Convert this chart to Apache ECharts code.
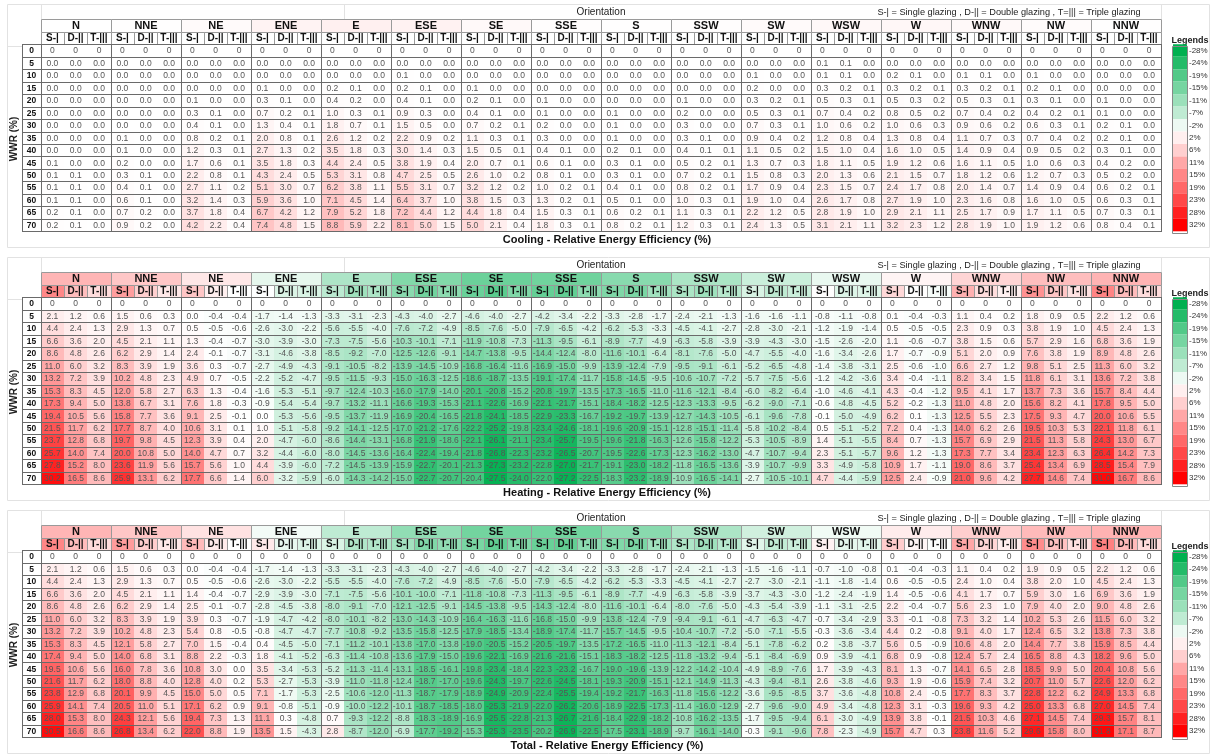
<!DOCTYPE html>
<html>
<head>
<meta charset="utf-8">
<script src="https://cdn.jsdelivr.net/npm/echarts@6/dist/echarts.min.js"></script>
<style>html,body{margin:0;padding:0;background:#fff}#chart{width:1216px;height:755px}</style>
</head>
<body>
<div id="chart"></div>
<script>
// ---------- categories ----------
const orientations = ['N','NNE','NE','ENE','E','ESE','SE','SSE','S','SSW','SW','WSW','W','WNW','NW','NNW'];
const glazings = ['S-|','D-||','T-|||'];
const wwr = [0,5,10,15,20,25,30,35,40,45,50,55,60,65,70];
const legendTicks = [-28,-24,-19,-15,-11,-7,-2,2,6,11,15,19,23,28,32];
const tableTitles = ['Cooling - Relative Energy Efficiency (%)','Heating - Relative Energy Efficiency (%)','Total - Relative Energy Efficiency (%)'];
const glazingNote = 'S-| = Single glazing , D-|| = Double glazing , T=||| = Triple glazing';

// ---------- values: per orientation [single, double, triple], rows = WWR ----------
const cooling = [
 [[0,0,0,0,0,0,0,0,0,0.1,0.1,0.1,0.1,0.2,0.2],[0,0,0,0,0,0,0,0,0,0,0.1,0.1,0.1,0.1,0.1],[0,0,0,0,0,0,0,0,0,0,0,0,0,0,0]],
 [[0,0,0,0,0,0,0,0.1,0.1,0.2,0.3,0.4,0.6,0.7,0.9],[0,0,0,0,0,0,0,0,0,0,0.1,0.1,0.1,0.2,0.2],[0,0,0,0,0,0,0,0,0,0,0,0,0,0,0]],
 [[0,0,0,0,0.1,0.3,0.4,0.8,1.2,1.7,2.2,2.7,3.2,3.7,4.2],[0,0,0,0,0,0.1,0.1,0.2,0.3,0.6,0.8,1.1,1.4,1.8,2.2],[0,0,0,0,0,0,0,0.1,0.1,0.1,0.1,0.2,0.3,0.4,0.4]],
 [[0,0,0,0.1,0.3,0.7,1.3,2.0,2.7,3.5,4.3,5.1,5.9,6.7,7.4],[0,0,0,0,0.1,0.2,0.4,0.8,1.3,1.8,2.4,3.0,3.6,4.2,4.8],[0,0,0,0,0,0.1,0.1,0.1,0.2,0.3,0.5,0.7,1.0,1.2,1.5]],
 [[0,0,0,0.2,0.4,1.0,1.8,2.6,3.5,4.4,5.3,6.2,7.1,7.9,8.8],[0,0,0,0.1,0.2,0.3,0.7,1.2,1.8,2.4,3.1,3.8,4.5,5.2,5.9],[0,0,0,0,0,0.1,0.1,0.2,0.3,0.5,0.8,1.1,1.4,1.8,2.2]],
 [[0,0,0.1,0.2,0.4,0.9,1.5,2.2,3.0,3.8,4.7,5.5,6.4,7.2,8.1],[0,0,0,0.1,0.1,0.3,0.5,0.9,1.4,1.9,2.5,3.1,3.7,4.4,5.0],[0,0,0,0,0,0,0,0.2,0.3,0.4,0.5,0.7,1.0,1.2,1.5]],
 [[0,0,0,0.1,0.2,0.4,0.7,1.1,1.5,2.0,2.6,3.2,3.8,4.4,5.0],[0,0,0,0,0.1,0.1,0.2,0.3,0.5,0.7,1.0,1.2,1.5,1.8,2.1],[0,0,0,0,0,0,0.1,0.1,0.1,0.1,0.2,0.2,0.3,0.4,0.4]],
 [[0,0,0,0,0.1,0.1,0.2,0.3,0.4,0.6,0.8,1.0,1.3,1.5,1.8],[0,0,0,0,0,0,0,0,0.1,0.1,0.1,0.2,0.2,0.3,0.3],[0,0,0,0,0,0,0,0,0,0,0,0.1,0.1,0.1,0.1]],
 [[0,0,0,0,0,0.1,0.1,0.1,0.2,0.3,0.3,0.4,0.5,0.6,0.8],[0,0,0,0,0,0,0,0,0.1,0.1,0.1,0.1,0.1,0.2,0.2],[0,0,0,0,0,0,0,0,0,0,0,0,0,0.1,0.1]],
 [[0,0,0,0,0.1,0.2,0.3,0.3,0.4,0.5,0.7,0.8,1.0,1.1,1.2],[0,0,0,0,0,0,0,0.1,0.1,0.2,0.2,0.2,0.3,0.3,0.3],[0,0,0,0,0,0,0,0,0.1,0.1,0.1,0.1,0.1,0.1,0.1]],
 [[0,0,0.1,0.2,0.3,0.5,0.7,0.9,1.1,1.3,1.5,1.7,1.9,2.2,2.4],[0,0,0,0,0.2,0.3,0.3,0.4,0.5,0.7,0.8,0.9,1.0,1.2,1.3],[0,0,0,0,0.1,0.1,0.1,0.2,0.2,0.3,0.3,0.4,0.4,0.5,0.5]],
 [[0,0.1,0.1,0.3,0.5,0.7,1.0,1.2,1.5,1.8,2.0,2.3,2.6,2.8,3.1],[0,0.1,0.1,0.2,0.3,0.4,0.6,0.8,1.0,1.1,1.3,1.5,1.7,1.9,2.1],[0,0,0,0.1,0.1,0.2,0.2,0.4,0.4,0.5,0.6,0.7,0.8,1.0,1.1]],
 [[0,0,0.2,0.3,0.5,0.8,1.0,1.3,1.6,1.9,2.1,2.4,2.7,2.9,3.2],[0,0,0.1,0.2,0.3,0.5,0.6,0.8,1.0,1.2,1.5,1.7,1.9,2.1,2.3],[0,0,0,0.1,0.2,0.2,0.3,0.4,0.5,0.6,0.7,0.8,1.0,1.1,1.2]],
 [[0,0,0.1,0.3,0.5,0.7,0.9,1.1,1.4,1.6,1.8,2.0,2.3,2.5,2.8],[0,0,0.1,0.2,0.3,0.4,0.6,0.7,0.9,1.1,1.2,1.4,1.6,1.7,1.9],[0,0,0,0.1,0.1,0.2,0.2,0.3,0.4,0.5,0.6,0.7,0.8,0.9,1.0]],
 [[0,0,0.1,0.2,0.3,0.4,0.6,0.7,0.9,1.0,1.2,1.4,1.6,1.7,1.9],[0,0,0,0.1,0.1,0.2,0.3,0.4,0.5,0.6,0.7,0.9,1.0,1.1,1.2],[0,0,0,0,0,0.1,0.1,0.2,0.2,0.3,0.3,0.4,0.5,0.5,0.6]],
 [[0,0,0,0,0.1,0.1,0.2,0.2,0.3,0.4,0.5,0.6,0.6,0.7,0.8],[0,0,0,0,0,0,0.1,0.1,0.1,0.2,0.2,0.2,0.3,0.3,0.4],[0,0,0,0,0,0,0,0,0,0,0,0.1,0.1,0.1,0.1]]
];

const heating = [
 [[0,2.1,4.4,6.6,8.6,11.0,13.2,15.3,17.3,19.4,21.5,23.7,25.7,27.8,30.2],[0,1.2,2.4,3.6,4.8,6.0,7.2,8.3,9.4,10.5,11.7,12.8,14.0,15.2,16.5],[0,0.6,1.3,2.0,2.6,3.2,3.9,4.5,5.0,5.6,6.2,6.8,7.4,8.0,8.6]],
 [[0,1.5,2.9,4.5,6.2,8.3,10.2,12.0,13.8,15.8,17.7,19.7,20.0,23.6,25.9],[0,0.6,1.3,2.1,2.9,3.9,4.8,5.8,6.7,7.7,8.7,9.8,10.8,11.9,13.1],[0,0.3,0.7,1.1,1.4,1.9,2.3,2.7,3.1,3.6,4.0,4.5,5.0,5.6,6.2]],
 [[0,0.0,0.5,1.3,2.4,3.6,4.9,6.3,7.6,9.1,10.6,12.3,14.0,15.7,17.7],[0,-0.4,-0.5,-0.4,-0.1,0.3,0.7,1.3,1.8,2.5,3.1,3.9,4.7,5.6,6.6],[0,-0.4,-0.6,-0.7,-0.7,-0.7,-0.5,-0.4,-0.3,-0.1,0.1,0.4,0.7,1.0,1.4]],
 [[0,-1.7,-2.6,-3.0,-3.1,-2.7,-2.2,-1.6,-0.9,0.0,1.0,2.0,3.2,4.4,6.0],[0,-1.4,-3.0,-3.9,-4.6,-4.9,-5.2,-5.3,-5.4,-5.3,-5.1,-4.7,-4.4,-3.9,-3.2],[0,-1.3,-2.2,-3.0,-3.8,-4.3,-4.7,-5.1,-5.4,-5.6,-5.8,-6.0,-6.0,-6.0,-5.9]],
 [[0,-3.3,-5.6,-7.3,-8.5,-9.1,-9.5,-9.7,-9.7,-9.5,-9.2,-8.6,-8.0,-7.2,-6.0],[0,-3.1,-5.5,-7.5,-9.2,-10.5,-11.5,-12.4,-13.2,-13.7,-14.1,-14.4,-14.5,-14.5,-14.3],[0,-2.3,-4.0,-5.6,-7.0,-8.2,-9.3,-10.3,-11.1,-11.9,-12.5,-13.1,-13.6,-13.9,-14.2]],
 [[0,-4.3,-7.6,-10.3,-12.5,-13.9,-15.0,-16.0,-16.6,-16.9,-17.0,-16.8,-16.4,-15.9,-15.0],[0,-4.0,-7.2,-10.1,-12.6,-14.5,-16.3,-17.9,-19.3,-20.4,-21.2,-21.9,-22.4,-22.7,-22.7],[0,-2.7,-4.9,-7.1,-9.1,-10.9,-12.5,-14.0,-15.3,-16.5,-17.6,-18.6,-19.4,-20.1,-20.7]],
 [[0,-4.6,-8.5,-11.9,-14.7,-16.8,-18.6,-20.1,-21.1,-21.8,-22.2,-22.1,-21.8,-21.3,-20.4],[0,-4.0,-7.6,-10.8,-13.8,-16.4,-18.7,-20.8,-22.6,-24.1,-25.2,-26.1,-26.8,-27.3,-27.5],[0,-2.7,-5.0,-7.3,-9.5,-11.6,-13.5,-15.2,-16.9,-18.5,-19.8,-21.1,-22.3,-23.2,-24.0]],
 [[0,-4.2,-7.9,-11.3,-14.4,-16.9,-19.1,-20.8,-22.1,-22.9,-23.4,-23.4,-23.2,-22.8,-22.0],[0,-3.4,-6.5,-9.5,-12.4,-15.0,-17.4,-19.7,-21.7,-23.3,-24.6,-25.7,-26.5,-27.0,-27.2],[0,-2.2,-4.2,-6.1,-8.0,-9.9,-11.7,-13.5,-15.1,-16.7,-18.1,-19.5,-20.7,-21.7,-22.5]],
 [[0,-3.3,-6.2,-8.9,-11.6,-13.9,-15.8,-17.3,-18.4,-19.2,-19.6,-19.6,-19.5,-19.1,-18.3],[0,-2.8,-5.3,-7.7,-10.1,-12.4,-14.5,-16.5,-18.2,-19.7,-20.9,-21.8,-22.6,-23.0,-23.2],[0,-1.7,-3.3,-4.9,-6.4,-7.9,-9.5,-11.0,-12.5,-13.9,-15.1,-16.3,-17.3,-18.2,-18.9]],
 [[0,-2.4,-4.5,-6.3,-8.1,-9.5,-10.6,-11.6,-12.3,-12.7,-12.8,-12.6,-12.3,-11.8,-10.9],[0,-2.1,-4.1,-5.8,-7.6,-9.1,-10.7,-12.1,-13.3,-14.3,-15.1,-15.8,-16.2,-16.5,-16.5],[0,-1.3,-2.7,-3.9,-5.0,-6.1,-7.2,-8.4,-9.5,-10.5,-11.4,-12.2,-13.0,-13.6,-14.1]],
 [[0,-1.6,-2.8,-3.9,-4.7,-5.2,-5.7,-6.0,-6.2,-6.1,-5.8,-5.3,-4.7,-3.9,-2.7],[0,-1.6,-3.0,-4.3,-5.5,-6.5,-7.5,-8.2,-9.0,-9.6,-10.2,-10.5,-10.7,-10.7,-10.5],[0,-1.1,-2.1,-3.0,-4.0,-4.8,-5.6,-6.4,-7.1,-7.8,-8.4,-8.9,-9.4,-9.9,-10.1]],
 [[0,-0.8,-1.2,-1.5,-1.6,-1.4,-1.2,-1.0,-0.6,-0.1,0.5,1.4,2.3,3.3,4.7],[0,-1.1,-1.9,-2.6,-3.4,-3.8,-4.2,-4.6,-4.8,-5.0,-5.1,-5.1,-5.1,-4.9,-4.4],[0,-0.8,-1.4,-2.0,-2.6,-3.1,-3.6,-4.1,-4.5,-4.9,-5.2,-5.5,-5.7,-5.8,-5.9]],
 [[0,0.1,0.5,1.1,1.7,2.5,3.4,4.3,5.2,6.2,7.2,8.4,9.6,10.9,12.5],[0,-0.4,-0.5,-0.6,-0.7,-0.6,-0.4,-0.4,-0.2,0.1,0.4,0.7,1.2,1.7,2.4],[0,-0.3,-0.5,-0.7,-0.9,-1.0,-1.1,-1.2,-1.3,-1.3,-1.3,-1.3,-1.3,-1.1,-0.9]],
 [[0,1.1,2.3,3.8,5.1,6.6,8.2,9.5,11.0,12.5,14.0,15.7,17.3,19.0,21.0],[0,0.4,0.9,1.5,2.0,2.7,3.4,4.1,4.8,5.5,6.2,6.9,7.7,8.6,9.6],[0,0.2,0.3,0.6,0.9,1.2,1.5,1.7,2.0,2.3,2.6,2.9,3.4,3.7,4.2]],
 [[0,1.8,3.8,5.7,7.6,9.8,11.8,13.7,15.6,17.5,19.5,21.5,23.4,25.4,27.7],[0,0.9,1.9,2.9,3.8,5.1,6.1,7.3,8.2,9.3,10.3,11.3,12.3,13.4,14.6],[0,0.5,1.0,1.6,1.9,2.5,3.1,3.6,4.1,4.7,5.3,5.8,6.3,6.9,7.4]],
 [[0,2.2,4.5,6.8,8.9,11.3,13.6,15.7,17.8,20.0,22.1,24.3,26.4,28.5,31.0],[0,1.2,2.4,3.6,4.8,6.0,7.2,8.4,9.5,10.6,11.8,13.0,14.2,15.4,16.7],[0,0.6,1.3,1.9,2.6,3.2,3.8,4.4,5.0,5.5,6.1,6.7,7.3,7.9,8.6]]
];

const total = [
 [[0,2.1,4.4,6.6,8.6,11.0,13.2,15.3,17.4,19.5,21.6,23.8,25.9,28.0,30.5],[0,1.2,2.4,3.6,4.8,6.0,7.2,8.3,9.4,10.6,11.7,12.9,14.1,15.3,16.6],[0,0.6,1.3,2.0,2.6,3.2,3.9,4.5,5.0,5.6,6.2,6.8,7.4,8.0,8.6]],
 [[0,1.5,2.9,4.5,6.2,8.3,10.2,12.1,14.0,16.0,18.0,20.1,20.5,24.3,26.8],[0,0.6,1.3,2.1,2.9,3.9,4.8,5.8,6.8,7.8,8.8,9.9,11.0,12.1,13.4],[0,0.3,0.7,1.1,1.4,1.9,2.3,2.7,3.1,3.6,4.0,4.5,5.1,5.6,6.2]],
 [[0,0.0,0.5,1.4,2.5,3.9,5.4,7.0,8.8,10.8,12.8,15.0,17.1,19.4,22.0],[0,-0.4,-0.5,-0.4,-0.1,0.3,0.8,1.5,2.2,3.0,4.0,5.0,6.2,7.3,8.8],[0,-0.4,-0.6,-0.7,-0.7,-0.7,-0.5,-0.4,-0.3,0.0,0.2,0.5,0.9,1.3,1.9]],
 [[0,-1.7,-2.6,-2.9,-2.8,-1.9,-0.8,0.4,1.8,3.5,5.3,7.1,9.1,11.1,13.5],[0,-1.4,-3.0,-3.9,-4.5,-4.7,-4.7,-4.5,-4.1,-3.4,-2.7,-1.7,-0.8,0.3,1.5],[0,-1.3,-2.2,-3.0,-3.8,-4.2,-4.7,-5.0,-5.2,-5.3,-5.3,-5.3,-5.1,-4.8,-4.3]],
 [[0,-3.3,-5.5,-7.1,-8.0,-8.0,-7.7,-7.1,-6.3,-5.2,-3.9,-2.5,-0.9,0.7,2.8],[0,-3.1,-5.5,-7.5,-9.1,-10.1,-10.8,-11.2,-11.4,-11.3,-11.0,-10.6,-10.0,-9.3,-8.7],[0,-2.3,-4.0,-5.6,-7.0,-8.2,-9.2,-10.1,-10.8,-11.4,-11.8,-12.0,-12.2,-12.2,-12.0]],
 [[0,-4.3,-7.6,-10.1,-12.1,-13.0,-13.5,-13.8,-13.6,-13.1,-12.4,-11.3,-10.1,-8.8,-6.9],[0,-4.0,-7.2,-10.0,-12.5,-14.3,-15.8,-17.0,-17.9,-18.5,-18.7,-18.7,-18.7,-18.3,-17.7],[0,-2.7,-4.9,-7.1,-9.1,-10.9,-12.5,-13.8,-15.0,-16.1,-17.0,-17.9,-18.5,-18.9,-19.2]],
 [[0,-4.6,-8.5,-11.8,-14.5,-16.4,-17.9,-19.0,-19.6,-19.8,-19.6,-18.9,-18.0,-16.9,-15.3],[0,-4.0,-7.6,-10.8,-13.8,-16.3,-18.5,-20.5,-22.1,-23.4,-24.3,-24.9,-25.3,-25.5,-25.3],[0,-2.7,-5.0,-7.3,-9.5,-11.6,-13.4,-15.2,-16.9,-18.4,-19.7,-20.9,-21.9,-22.8,-23.5]],
 [[0,-4.2,-7.9,-11.3,-14.3,-16.8,-18.9,-20.5,-21.6,-22.3,-22.6,-22.4,-22.0,-21.3,-20.2],[0,-3.4,-6.5,-9.5,-12.4,-15.0,-17.4,-19.7,-21.6,-23.2,-24.5,-25.5,-26.2,-26.7,-26.9],[0,-2.2,-4.2,-6.1,-8.0,-9.9,-11.7,-13.5,-15.1,-16.7,-18.1,-19.4,-20.6,-21.6,-22.5]],
 [[0,-3.3,-6.2,-8.9,-11.6,-13.8,-15.7,-17.2,-18.3,-19.0,-19.3,-19.2,-18.9,-18.4,-17.5],[0,-2.8,-5.3,-7.7,-10.1,-12.4,-14.5,-16.5,-18.2,-19.6,-20.9,-21.7,-22.5,-22.9,-23.1],[0,-1.7,-3.3,-4.9,-6.4,-7.9,-9.5,-11.0,-12.5,-13.9,-15.1,-16.3,-17.3,-18.2,-18.9]],
 [[0,-2.4,-4.5,-6.3,-8.0,-9.4,-10.4,-11.3,-11.8,-12.2,-12.1,-11.8,-11.4,-10.8,-9.7],[0,-2.1,-4.1,-5.8,-7.6,-9.1,-10.7,-12.1,-13.2,-14.2,-14.9,-15.6,-16.0,-16.2,-16.1],[0,-1.3,-2.7,-3.9,-5.0,-6.1,-7.2,-8.4,-9.4,-10.4,-11.3,-12.2,-12.9,-13.5,-14.0]],
 [[0,-1.5,-2.7,-3.7,-4.3,-4.7,-5.0,-5.1,-5.1,-4.9,-4.3,-3.6,-2.7,-1.7,-0.3],[0,-1.6,-3.0,-4.3,-5.4,-6.3,-7.1,-7.8,-8.4,-8.9,-9.4,-9.5,-9.6,-9.5,-9.1],[0,-1.1,-2.1,-3.0,-3.9,-4.7,-5.5,-6.2,-6.9,-7.6,-8.1,-8.5,-9.0,-9.4,-9.6]],
 [[0,-0.7,-1.1,-1.2,-1.1,-0.7,-0.3,0.2,0.9,1.7,2.6,3.7,4.9,6.1,7.8],[0,-1.0,-1.8,-2.4,-3.1,-3.4,-3.6,-3.8,-3.9,-3.9,-3.8,-3.6,-3.4,-3.0,-2.3],[0,-0.8,-1.4,-1.9,-2.5,-2.9,-3.4,-3.7,-4.1,-4.3,-4.6,-4.8,-4.8,-4.9,-4.9]],
 [[0,0.1,0.6,1.4,2.2,3.3,4.4,5.6,6.8,8.1,9.3,10.8,12.3,13.9,15.7],[0,-0.4,-0.5,-0.5,-0.4,-0.1,0.2,0.5,0.9,1.3,1.9,2.4,3.1,3.8,4.7],[0,-0.3,-0.5,-0.6,-0.7,-0.8,-0.8,-0.9,-0.8,-0.7,-0.6,-0.5,-0.3,-0.1,0.3]],
 [[0,1.1,2.4,4.1,5.6,7.3,9.1,10.6,12.4,14.1,15.9,17.7,19.6,21.5,23.8],[0,0.4,1.0,1.7,2.3,3.2,4.0,4.8,5.7,6.5,7.4,8.3,9.3,10.3,11.6],[0,0.2,0.4,0.7,1.0,1.4,1.7,2.0,2.4,2.8,3.2,3.7,4.2,4.6,5.2]],
 [[0,1.9,3.8,5.9,7.9,10.2,12.4,14.4,16.5,18.5,20.7,22.8,25.0,27.1,29.6],[0,0.9,2.0,3.0,4.0,5.3,6.5,7.7,8.8,9.9,11.0,12.2,13.3,14.5,15.8],[0,0.5,1.0,1.6,2.0,2.6,3.2,3.8,4.3,5.0,5.7,6.2,6.8,7.4,8.0]],
 [[0,2.2,4.5,6.9,9.0,11.5,13.8,15.9,18.2,20.4,22.6,24.9,27.0,29.3,31.8],[0,1.2,2.4,3.6,4.8,6.0,7.3,8.5,9.6,10.8,12.0,13.3,14.5,15.7,17.1],[0,0.6,1.3,1.9,2.6,3.2,3.8,4.4,5.0,5.6,6.2,6.8,7.4,8.1,8.7]]
];

// ---------- build ----------
const tables = [cooling, heating, total];
const colorGlazingHeader = [false, true, true];
const OFF = [0, 253, 506];
const GRID_LEFT = 40.7, GRID_W = 1120, GRID_TOP = 19.3, GRID_H = 212;
const ROW_LABEL_W = 19;
const FONT = '"Liberation Sans", Arial, sans-serif';

const GREEN = [0,176,80], WHITE = [255,255,255], RED = [255,0,0];
function mix(a, b, t) {
  const c = a.map((v, i) => Math.round(v + (b[i] - v) * t));
  return 'rgb(' + c.join(',') + ')';
}
function scaleColor(v) {
  return v <= 0 ? mix(WHITE, GREEN, Math.min(1, -v / 28)) : mix(WHITE, RED, Math.min(1, v / 32));
}
const colorStops = [];
for (let v = -28; v <= 32; v += 4) colorStops.push(scaleColor(v));

const rowCats = ['dir', 'glz'].concat(wwr.map(String));
const colCats = [];
orientations.forEach(o => glazings.forEach(g => colCats.push(o + ' ' + g)));

const mean = arr => arr.reduce((s, v) => s + v, 0) / arr.length;
const crisp = v => Math.round(v) + 0.5;

function renderCell(params, api) {
  const c = api.value(0), r = api.value(1), v = api.value(2);
  const p = api.coord([c, r]);
  const s = api.size([1, 1]);
  const x0 = Math.round(p[0] - s[0] / 2), x1 = Math.round(p[0] + s[0] / 2);
  const y0 = Math.round(p[1] - s[1] / 2), y1 = Math.round(p[1] + s[1] / 2);
  const label = wwr[r - 2] === 0 ? '0' : v.toFixed(1);
  return {
    type: 'group',
    children: [
      { type: 'rect', shape: { x: x0, y: y0, width: x1 - x0, height: y1 - y0 }, style: { fill: api.visual('color') } },
      { type: 'text', style: { x: p[0], y: p[1] + 0.5, text: label, align: 'center', verticalAlign: 'middle', fill: '#555', fontSize: 8.5, fontFamily: FONT } }
    ]
  };
}

function renderHeader(params, api) {
  const c = api.value(0), r = api.value(1), v = api.value(2), span = api.value(3), li = api.value(4);
  const p = api.coord([c, r]);
  const s = api.size([1, 1]);
  const x0 = Math.round(p[0] - s[0] / 2), x1 = Math.round(p[0] - s[0] / 2 + s[0] * span);
  const y0 = Math.round(p[1] - s[1] / 2), y1 = Math.round(p[1] + s[1] / 2);
  const fill = isNaN(v) ? '#ffffff' : api.visual('color');
  const text = r === 0 ? orientations[li] : glazings[li];
  return {
    type: 'group',
    children: [
      { type: 'rect', shape: { x: x0 + 0.5, y: y0 + 0.5, width: x1 - x0, height: y1 - y0 }, style: { fill: fill, stroke: '#9a9a9a', lineWidth: 1 } },
      { type: 'text', style: { x: (x0 + x1) / 2, y: (y0 + y1) / 2 + 0.5, text: text, align: 'center', verticalAlign: 'middle', fill: '#111', fontWeight: 'bold', fontSize: r === 0 ? 11 : 10, fontFamily: FONT } }
    ]
  };
}

function renderRowLabel(params, api) {
  const r = api.value(1);
  const p = api.coord([0, r]);
  const s = api.size([1, 1]);
  const xr = Math.round(p[0] - s[0] / 2);
  const y0 = Math.round(p[1] - s[1] / 2), y1 = Math.round(p[1] + s[1] / 2);
  return {
    type: 'group',
    children: [
      { type: 'rect', shape: { x: xr - ROW_LABEL_W, y: y0, width: ROW_LABEL_W, height: y1 - y0 }, style: { fill: '#fff' } },
      { type: 'text', style: { x: xr - ROW_LABEL_W / 2, y: p[1] + 0.5, text: String(wwr[r - 2]), align: 'center', verticalAlign: 'middle', fill: '#111', fontWeight: 'bold', fontSize: 8.5, fontFamily: FONT } }
    ]
  };
}

function renderLine(params, api) {
  const kind = api.value(0), k = api.value(1);
  const s = api.size([1, 1]);
  const first = api.coord([0, 2]), last = api.coord([colCats.length - 1, rowCats.length - 1]);
  const left = first[0] - s[0] / 2, right = last[0] + s[0] / 2;
  const top = first[1] - s[1] / 2, bottom = last[1] + s[1] / 2;
  let shape;
  if (kind === 0) {
    const y = crisp(k < rowCats.length ? api.coord([0, k])[1] - s[1] / 2 : bottom);
    shape = { x1: Math.round(left) - ROW_LABEL_W, y1: y, x2: Math.round(right) + 1, y2: y };
  } else if (kind === 1) {
    const x = crisp(k < colCats.length ? api.coord([k, 2])[0] - s[0] / 2 : right);
    shape = { x1: x, y1: Math.round(top), x2: x, y2: Math.round(bottom) + 1 };
  } else {
    const x = crisp(left - ROW_LABEL_W);
    shape = { x1: x, y1: Math.round(top), x2: x, y2: Math.round(bottom) + 1 };
  }
  return { type: 'line', shape: shape, style: { stroke: '#6a6a6a', lineWidth: 1 } };
}

const grids = [], xAxes = [], yAxes = [], series = [], visualMaps = [], graphics = [];
const colorSeries = [];

tables.forEach((tbl, ti) => {
  const off = OFF[ti];
  grids.push({ left: GRID_LEFT, top: GRID_TOP + off, width: GRID_W, height: GRID_H });
  xAxes.push({ type: 'category', gridIndex: ti, data: colCats, show: false });
  yAxes.push({ type: 'category', gridIndex: ti, data: rowCats, inverse: true, show: false });

  const cells = [];
  tbl.forEach((grp, d) => grp.forEach((col, g) => col.forEach((v, r) => cells.push([d * 3 + g, r + 2, v]))));
  const headers = [];
  tbl.forEach((grp, d) => {
    headers.push([d * 3, 0, mean([].concat(grp[0], grp[1], grp[2])), 3, d]);
    grp.forEach((col, g) => headers.push([d * 3 + g, 1, colorGlazingHeader[ti] ? mean(col) : '-', 1, g]));
  });
  const rowLabels = wwr.map((w, r) => [0, r + 2]);
  const lines = [];
  for (let k = 2; k <= rowCats.length; k++) lines.push([0, k]);
  for (let k = 0; k <= colCats.length; k += 3) lines.push([1, k]);
  lines.push([2, 0]);

  colorSeries.push(series.length);
  series.push({ type: 'custom', name: tableTitles[ti], xAxisIndex: ti, yAxisIndex: ti, renderItem: renderCell, data: cells, z: 2, silent: true });
  colorSeries.push(series.length);
  series.push({ type: 'custom', xAxisIndex: ti, yAxisIndex: ti, renderItem: renderHeader, data: headers, z: 3, silent: true });
  series.push({ type: 'custom', xAxisIndex: ti, yAxisIndex: ti, renderItem: renderRowLabel, data: rowLabels, z: 2, silent: true });
  series.push({ type: 'custom', xAxisIndex: ti, yAxisIndex: ti, renderItem: renderLine, data: lines, z: 4, silent: true });

  visualMaps.push({
    type: 'piecewise', seriesIndex: [], orient: 'vertical', inverse: true, align: 'left',
    left: 1173, top: GRID_TOP + off + 2 * GRID_H / rowCats.length,
    itemWidth: 14, itemHeight: GRID_H / rowCats.length, itemGap: 0, itemSymbol: 'rect',
    padding: 0, textGap: 2, selectedMode: false, showLabel: true, hoverLink: false,
    textStyle: { fontSize: 8, color: '#333', fontFamily: FONT },
    pieces: legendTicks.map(t => ({ value: t, label: t + '%', color: scaleColor(t) }))
  });

  // decorative frame and texts
  graphics.push(
    { type: 'rect', silent: true, shape: { x: 7.5, y: off + 4.5, width: 1202, height: 243 }, style: { fill: 'none', stroke: '#e2e2e2', lineWidth: 1 } },
    { type: 'line', silent: true, shape: { x1: 41.5, y1: off + 4, x2: 41.5, y2: off + 19 }, style: { stroke: '#e2e2e2' } },
    { type: 'line', silent: true, shape: { x1: 344.5, y1: off + 4, x2: 344.5, y2: off + 19 }, style: { stroke: '#e2e2e2' } },
    { type: 'line', silent: true, shape: { x1: 1161.5, y1: off + 4, x2: 1161.5, y2: off + 19 }, style: { stroke: '#e2e2e2' } },
    { type: 'line', silent: true, shape: { x1: 7, y1: off + 46.5, x2: 22, y2: off + 46.5 }, style: { stroke: '#e2e2e2' } },
    { type: 'text', silent: true, x: 601, y: off + 12, style: { text: 'Orientation', align: 'center', verticalAlign: 'middle', fill: '#222', fontSize: 10, fontFamily: FONT } },
    { type: 'text', silent: true, x: 1009, y: off + 12, style: { text: glazingNote, align: 'center', verticalAlign: 'middle', fill: '#222', fontSize: 9.2, fontFamily: FONT } },
    { type: 'text', silent: true, x: 607, y: off + 240, style: { text: tableTitles[ti], align: 'center', verticalAlign: 'middle', fill: '#111', fontWeight: 'bold', fontSize: 11, fontFamily: FONT } },
    { type: 'text', silent: true, x: 1190, y: off + 40.5, style: { text: 'Legends', align: 'center', verticalAlign: 'middle', fill: '#222', fontWeight: 'bold', fontSize: 9, fontFamily: FONT } },
    { type: 'text', silent: true, x: 14, y: off + 139, rotation: Math.PI / 2, style: { text: 'WWR (%)', align: 'center', verticalAlign: 'middle', fill: '#222', fontWeight: 'bold', fontSize: 10, fontFamily: FONT } },
    { type: 'rect', silent: true, z: 100, shape: { x: 1172.5, y: off + 46.5, width: 15, height: 187 }, style: { fill: 'none', stroke: '#888', lineWidth: 1 } }
  );
});

visualMaps.unshift({
  type: 'continuous', show: false, min: -28, max: 32, dimension: 2,
  seriesIndex: colorSeries, inRange: { color: colorStops }
});

const chart = echarts.init(document.getElementById('chart'), null, { renderer: 'canvas' });
chart.setOption({
  animation: false,
  backgroundColor: '#ffffff',
  grid: grids,
  xAxis: xAxes,
  yAxis: yAxes,
  visualMap: visualMaps,
  series: series,
  graphic: graphics
});
</script>
</body>
</html>
